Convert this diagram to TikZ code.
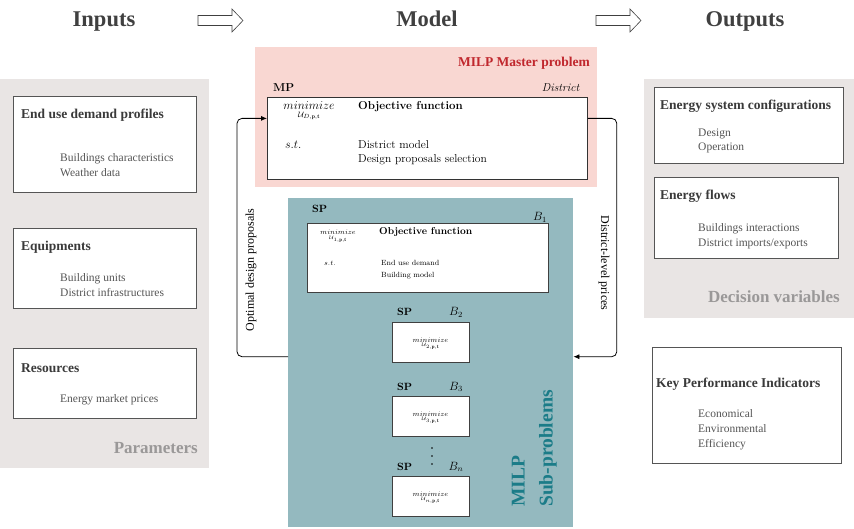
\documentclass[tikz,border=0pt]{standalone}
\usepackage{amsmath}
\usepackage{amssymb}
\usepackage{fontspec}
\usetikzlibrary{arrows.meta}
\newfontfamily\tms{Liberation Serif}
\definecolor{panelgray}{HTML}{E9E5E4}
\definecolor{mppink}{HTML}{F9D7D2}
\definecolor{spteal}{HTML}{94B9BF}
\definecolor{headtext}{HTML}{404040}
\definecolor{bodytext}{HTML}{3A3A3A}
\definecolor{itemtext}{HTML}{555555}
\definecolor{softtext}{HTML}{9A9898}
\definecolor{mpred}{HTML}{C0272D}
\definecolor{spblue}{HTML}{1B7C88}
\definecolor{boxline}{HTML}{555555}

\tikzset{
  heading/.style={font=\tms\fontsize{22.5}{24}\selectfont\bfseries, text=headtext, anchor=base, inner sep=0},
  hollow/.style={draw=black!75, line width=0.6pt, fill=white, line join=miter},
  inbox/.style={draw=boxline, line width=0.8pt, fill=white, anchor=north west, inner sep=0},
  ttl/.style={font=\tms\fontsize{13.5}{15}\selectfont\bfseries, text=bodytext, anchor=base west, inner sep=0},
  itm/.style={font=\tms\fontsize{11.5}{13}\selectfont, text=itemtext, anchor=base west, inner sep=0},
  group/.style={font=\tms\fontsize{17}{19}\selectfont\bfseries, text=softtext, anchor=base east, inner sep=0},
  lm/.style={font=\fontsize{11.5}{13}\selectfont, anchor=base west, inner sep=0},
  lmbold/.style={font=\fontsize{11.5}{13}\selectfont\bfseries, anchor=base west, inner sep=0},
  lmsmall/.style={font=\fontsize{7.5}{9}\selectfont, anchor=base west, inner sep=0},
  flow/.style={draw, line width=0.8pt, rounded corners=5pt, -{Latex[length=6pt,width=5pt]}},
  side/.style={font=\tms\fontsize{12}{14}\selectfont, inner sep=0},
}

\begin{document}
\begin{tikzpicture}[x=1pt,y=-1pt]
\useasboundingbox (0,0) rectangle (854,529);

% headings
\node[heading] (inputs) at (104,27) {Inputs};
\node[heading] (model) at (427,27) {Model};
\node[heading] (outputs) at (745,27) {Outputs};
\foreach \xa in {198,596}
  \draw[hollow] (\xa,15.5) -- ++(34,0) -- ++(0,-6.5) -- ++(11,11.5) -- ++(-11,11.5) -- ++(0,-6.5) -- ++(-34,0) -- cycle;

% parameters
\fill[panelgray] (0,79) rectangle (209,468);
\node[inbox, minimum width=183pt, minimum height=96pt] (demand) at (13,96) {};
\node[ttl] (demandttl) at (21,119) {End use demand profiles};
\node[itm] (demand1) at (60,162) {Buildings characteristics};
\node[itm] (demand2) at (60,177) {Weather data};
\node[inbox, minimum width=183pt, minimum height=80pt] (equip) at (13,228) {};
\node[ttl] (equipttl) at (21,251) {Equipments};
\node[itm] (equip1) at (60,282) {Building units};
\node[itm] (equip2) at (60,297) {District infrastructures};
\node[inbox, minimum width=183pt, minimum height=70pt] (res) at (13,348) {};
\node[ttl] (resttl) at (21,372) {Resources};
\node[itm] (res1) at (60,402) {Energy market prices};
\node[group] (params) at (198,453) {Parameters};

% decision variables
\fill[panelgray] (644,79) rectangle (854,318);
\node[inbox, minimum width=189pt, minimum height=76pt] (config) at (654,87) {};
\node[ttl] (configttl) at (660,110) {Energy system configurations};
\node[itm] (config1) at (698,137) {Design};
\node[itm] (config2) at (698,151) {Operation};
\node[inbox, minimum width=184pt, minimum height=81pt] (flows) at (654,177) {};
\node[ttl] (flowsttl) at (660,200) {Energy flows};
\node[itm] (flows1) at (698,232) {Buildings interactions};
\node[itm] (flows2) at (698,247) {District imports/exports};
\node[group] (decvars) at (840,302) {Decision variables};
\node[inbox, minimum width=189pt, minimum height=116pt] (kpi) at (652,347) {};
\node[ttl] (kpittl) at (656,387) {Key Performance Indicators};
\node[itm] (kpi1) at (698,417) {Economical};
\node[itm] (kpi2) at (698,432) {Environmental};
\node[itm] (kpi3) at (698,447) {Efficiency};

% master problem
\node[fill=mppink, minimum width=342pt, minimum height=140pt, anchor=north west, inner sep=0] (master) at (255,47) {};
\node[font=\tms\fontsize{13.5}{15}\selectfont\bfseries, text=mpred, anchor=base east, inner sep=0] (masterttl) at (590,67) {MILP Master problem};
\node[inbox, draw=black!80, minimum width=320pt, minimum height=82pt] (mp) at (267,97) {};
\node[lmbold] (mplbl) at (273,92) {MP};
\node[lm, anchor=base east] (mpdist) at (580,92) {\textit{District}};
\node[anchor=base, inner sep=0, font=\fontsize{11.5}{13}\selectfont] (mpmin) at (309,110) {$\underset{\mathcal{U}_{D,\mathbf{p},\mathbf{t}}}{minimize}$};
\node[lmbold] (mpobj) at (358,110) {Objective function};
\node[lm] (mpst) at (285,149) {$s.t.$};
\node[lm] (mpc1) at (358,149) {District model};
\node[lm] (mpc2) at (358,163) {Design proposals selection};

% sub-problems
\node[fill=spteal, minimum width=285pt, minimum height=329pt, anchor=north west, inner sep=0] (subprob) at (288,198) {};
\node[lmbold, font=\fontsize{10.5}{12}\selectfont\bfseries] (sp1lbl) at (312,213) {SP};
\node[anchor=base, inner sep=0, font=\fontsize{11.5}{13}\selectfont] (sp1b) at (540,221) {$B_1$};
\node[inbox, draw=black!75, minimum width=241pt, minimum height=69pt] (sp1) at (307,223) {};
\node[anchor=base, inner sep=0, font=\fontsize{7}{8}\selectfont] (sp1min) at (338,235) {$\underset{\mathcal{U}_{1,\mathbf{p},\mathbf{t}}}{minimize}$};
\node[lmbold, font=\fontsize{10}{12}\selectfont\bfseries] (sp1obj) at (379,235) {Objective function};
\node[lmsmall] (sp1st) at (324,266) {$s.t.$};
\node[lmsmall] (sp1c1) at (381,266) {End use demand};
\node[lmsmall] (sp1c2) at (381,278) {Building model};
\foreach \k/\ytop in {2/322, 3/396, n/476} {
  \node[inbox, draw=black!75, minimum width=77pt, minimum height=40pt] (sp\k) at (392,\ytop) {};
  \node[lmbold, font=\fontsize{10.5}{12}\selectfont\bfseries] (sp\k-lbl) at (397,\ytop-6) {SP};
  \node[anchor=base, inner sep=0, font=\fontsize{11.5}{13}\selectfont] (sp\k-b) at (456,\ytop-6) {$B_{\k}$};
  \node[anchor=base, inner sep=0, font=\fontsize{7}{8}\selectfont] (sp\k-min) at (430.5,\ytop+20) {$\underset{\mathcal{U}_{\k,\mathbf{p},\mathbf{t}}}{minimize}$};
}
\foreach \yd in {448,456,464}
  \fill (432,\yd) circle (0.9pt);
\node[rotate=90, anchor=south west, align=left, font=\tms\fontsize{19.5}{28}\selectfont\bfseries, text=spblue, inner sep=0] (subttl) at (557,507) {MILP\\Sub-problems};

% exchanges
\draw[flow] ([yshift=6pt]subprob.west) -- ++(-51,0) |- ([yshift=20pt]mp.west);
\draw[flow] ([yshift=20pt]mp.east) -- ++(29,0) |- ([yshift=6pt]subprob.east);
\node[side, rotate=90] (optlbl) at (251,270) {Optimal design proposals};
\node[side, rotate=-90] (pricelbl) at (604,263) {District-level prices};
\end{tikzpicture}
\end{document}
